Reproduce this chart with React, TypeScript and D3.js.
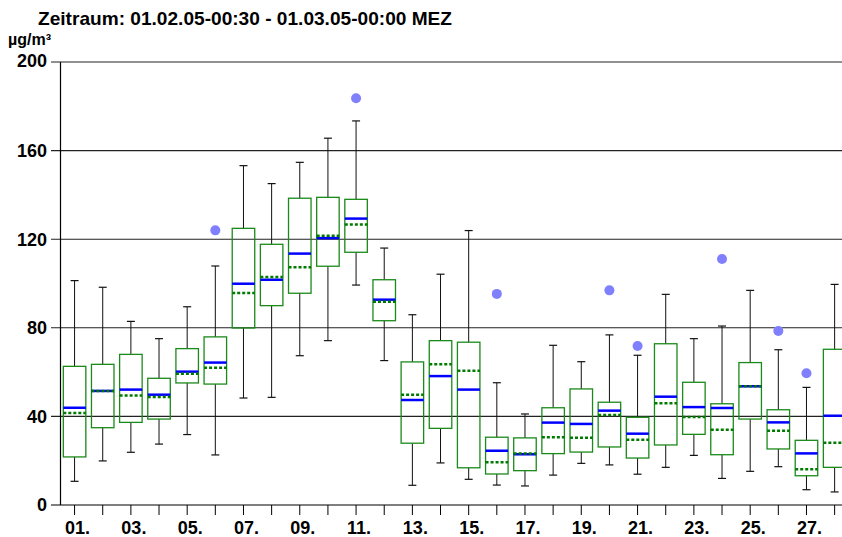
import React from "react";
import * as d3 from "d3";

const days: number[] = d3.range(1, 29);
const whiskerHigh = [101.3, 98.3, 82.9, 75.1, 89.5, 107.9, 153.2, 145.1, 154.7, 165.6, 173.4, 116.0, 85.9, 104.2, 123.9, 55.2, 41.1, 72.1, 64.7, 76.8, 67.6, 95.1, 75.1, 80.8, 96.9, 70.1, 53.1, 99.6];
const q3 = [62.6, 63.5, 68.0, 57.2, 70.6, 75.9, 124.9, 117.7, 138.5, 138.9, 138.0, 101.7, 64.6, 74.2, 73.5, 30.6, 30.3, 43.9, 52.4, 46.4, 39.6, 72.8, 55.4, 45.7, 64.3, 43.0, 29.2, 70.3];
const blueLine = [43.9, 51.5, 52.1, 49.8, 60.2, 64.3, 99.9, 101.7, 113.5, 120.5, 129.3, 92.7, 47.4, 58.2, 52.1, 24.5, 22.9, 37.2, 36.6, 42.6, 32.2, 48.9, 44.2, 43.8, 53.6, 37.3, 23.3, 40.3];
const greenLine = [41.5, 51.5, 49.4, 48.8, 59.3, 62.0, 95.7, 102.9, 107.3, 121.6, 126.6, 91.8, 49.8, 63.5, 60.6, 19.3, 23.2, 30.6, 30.4, 40.6, 29.5, 45.9, 39.7, 34.0, 53.6, 33.5, 16.1, 28.1];
const q1 = [21.7, 34.9, 37.3, 38.8, 55.1, 54.6, 79.9, 90.0, 95.6, 107.8, 114.1, 83.2, 27.9, 34.6, 16.8, 14.0, 15.5, 23.2, 23.9, 26.2, 21.2, 27.1, 31.9, 22.7, 38.8, 25.3, 13.2, 17.0];
const whiskerLow = [10.7, 19.9, 23.8, 27.5, 31.8, 22.6, 48.3, 48.6, 67.4, 74.2, 99.3, 65.2, 8.9, 19.0, 11.6, 9.0, 8.6, 13.5, 18.8, 18.1, 13.9, 17.0, 22.4, 12.0, 15.2, 17.3, 6.9, 5.9];
const outlierDays = [6, 11, 16, 20, 21, 24, 26, 27];
const outlierValues = [124.0, 183.6, 95.3, 96.9, 71.8, 111.1, 78.6, 59.5];
const yTicks = [0, 40, 80, 120, 160, 200];
const xLabelDays = [1, 3, 5, 7, 9, 11, 13, 15, 17, 19, 21, 23, 25, 27];

const title = "Zeitraum: 01.02.05-00:30 - 01.03.05-00:00 MEZ";
const unit = "µg/m³";

export default function App() {
  const W = 842, H = 537;
  const left = 60.5, top = 62, bottom = 505;
  const x = d3.scaleBand<number>().domain(days).range([left, 848.7]).paddingInner(0).paddingOuter(0);
  const y = d3.scaleLinear().domain([0, 200]).range([bottom, top]);
  const bw = x.bandwidth();
  const boxW = bw * 0.8;
  const capW = 8;
  const font = "'Liberation Sans', Arial, sans-serif";
  const cx = (d: number) => (x(d) as number) + bw / 2;

  return (
    <svg width={W} height={H} style={{ position: "absolute", left: 0, top: 0, background: "#fff" }} fontFamily={font}>
      <defs>
        <clipPath id="plotclip">
          <rect x={0} y={0} width={W} height={H} />
        </clipPath>
      </defs>
      <text x={38} y={25} fontSize={19} fontWeight="bold" fill="#000" textLength={414} lengthAdjust="spacingAndGlyphs">{title}</text>
      <text x={8} y={45} fontSize={16} fontWeight="bold" fill="#000">{unit}</text>
      {/* grid lines */}
      {yTicks.filter(t => t > 0).map(t => (
        <line key={"g" + t} x1={51} x2={W} y1={y(t)} y2={y(t)} stroke="#222" strokeWidth={1.1} />
      ))}
      {yTicks.map(t => (
        <text key={"yl" + t} x={47} y={t === 200 ? y(t) - 1 : y(t)} dy="0.36em" textAnchor="end" fontSize={18} fontWeight="bold" fill="#000">{t}</text>
      ))}
      {/* axes */}
      <line x1={left} x2={left} y1={top} y2={bottom} stroke="#000" strokeWidth={1.2} />
      <line x1={51} x2={W} y1={bottom} y2={bottom} stroke="#000" strokeWidth={1.2} />
      {days.map(d => (
        <line key={"xt" + d} x1={cx(d)} x2={cx(d)} y1={bottom} y2={bottom + 10} stroke="#000" strokeWidth={1} />
      ))}
      {xLabelDays.map(d => (
        <text key={"xl" + d} x={cx(d) + 3} y={534} textAnchor="middle" fontSize={18} fontWeight="bold" fill="#000">{String(d).padStart(2, "0") + "."}</text>
      ))}
      {/* boxes */}
      <g clipPath="url(#plotclip)">
        {days.map((d, i) => {
          const c = cx(d);
          return (
            <g key={"b" + d}>
              <line x1={c} x2={c} y1={y(whiskerHigh[i])} y2={y(q3[i])} stroke="#111" strokeWidth={1} />
              <line x1={c} x2={c} y1={y(q1[i])} y2={y(whiskerLow[i])} stroke="#111" strokeWidth={1} />
              <line x1={c - capW / 2} x2={c + capW / 2} y1={y(whiskerHigh[i])} y2={y(whiskerHigh[i])} stroke="#111" strokeWidth={1.2} />
              <line x1={c - capW / 2} x2={c + capW / 2} y1={y(whiskerLow[i])} y2={y(whiskerLow[i])} stroke="#111" strokeWidth={1.2} />
              <rect x={c - boxW / 2} y={y(q3[i])} width={boxW} height={y(q1[i]) - y(q3[i])} fill="none" stroke="#1a8a1a" strokeWidth={1.3} />
              <line x1={c - boxW / 2} x2={c + boxW / 2} y1={y(blueLine[i])} y2={y(blueLine[i])} stroke="#0000ff" strokeWidth={2.5} />
              <line x1={c - boxW / 2} x2={c + boxW / 2} y1={y(greenLine[i])} y2={y(greenLine[i])} stroke="#007a00" strokeWidth={2.5} strokeDasharray="3,2" />
            </g>
          );
        })}
        {outlierDays.map((d, i) => (
          <circle key={"o" + i} cx={cx(d)} cy={y(outlierValues[i])} r={5} fill="#8080ff" />
        ))}
      </g>
    </svg>
  );
}
